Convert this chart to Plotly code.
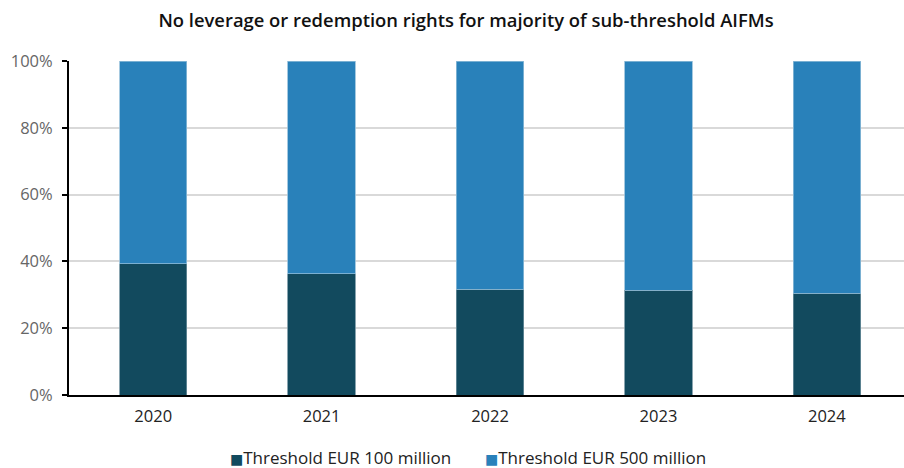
import plotly.graph_objects as go

years = ["2020", "2021", "2022", "2023", "2024"]
share_100m = [39.3, 36.3, 31.7, 31.3, 30.5]
share_500m = [round(100 - v, 1) for v in share_100m]
y_ticks = [0, 20, 40, 60, 80, 100]
y_tick_labels = ["0%", "20%", "40%", "60%", "80%", "100%"]
series_names = ["Threshold EUR 100 million", "Threshold EUR 500 million"]

DARK = "#124a5e"
BLUE = "#2981ba"
FONT = "Open Sans, sans-serif"

fig = go.Figure()
fig.add_trace(go.Bar(
    x=years, y=share_100m, name=series_names[0],
    marker=dict(color=DARK, line=dict(color="#6d8f9c", width=0.8)),
    width=0.4, showlegend=False,
))
fig.add_trace(go.Bar(
    x=years, y=share_500m, name=series_names[1],
    marker=dict(color=BLUE, line=dict(color="#8fbcd8", width=0.8)),
    width=0.4, showlegend=False,
))

# legend: small coloured square followed directly by the series name
legend_x = [0.191, 0.4955]
for name, color, lx in zip(series_names, [DARK, BLUE], legend_x):
    fig.add_annotation(
        text=(f"<span style='color:{color};font-family:DejaVu Sans;font-size:14px'>■</span>"
              f"<span>{name}</span>"),
        x=lx, xref="paper", xanchor="left",
        y=-0.1886, yref="paper", yanchor="middle",
        showarrow=False,
        font=dict(family=FONT, size=17, color="#222"),
    )

fig.update_layout(
    barmode="stack",
    width=904, height=468,
    margin=dict(l=69, r=0, t=61, b=73),
    paper_bgcolor="white", plot_bgcolor="white",
    font=dict(family=FONT, size=15, color="#222"),
    title=dict(
        text="<span style='font-weight:600'>No leverage or redemption rights for majority of sub-threshold AIFMs</span>",
        x=0.5155, xref="container", xanchor="center", y=0.957, yanchor="middle",
        font=dict(family=FONT, size=18.4, color="#111"),
    ),
    bargap=0.6,
)
fig.update_xaxes(
    type="category", range=[-0.5, 4.458],
    showline=True, linecolor="black", linewidth=2,
    ticks="", showgrid=False, ticklabelstandoff=5,
    tickfont=dict(family=FONT, size=16.5, color="#222"),
)
fig.update_yaxes(
    range=[0, 100], tickvals=y_ticks, ticktext=y_tick_labels,
    showline=True, linecolor="black", linewidth=2,
    ticks="outside", ticklen=5, tickcolor="black", tickwidth=2,
    showgrid=True, gridcolor="#d9d9d9", gridwidth=1.5,
    tickfont=dict(family=FONT, size=16.5, color="#666"),
    ticklabelstandoff=6,
    zeroline=False,
)

fig.write_html("out.html")
